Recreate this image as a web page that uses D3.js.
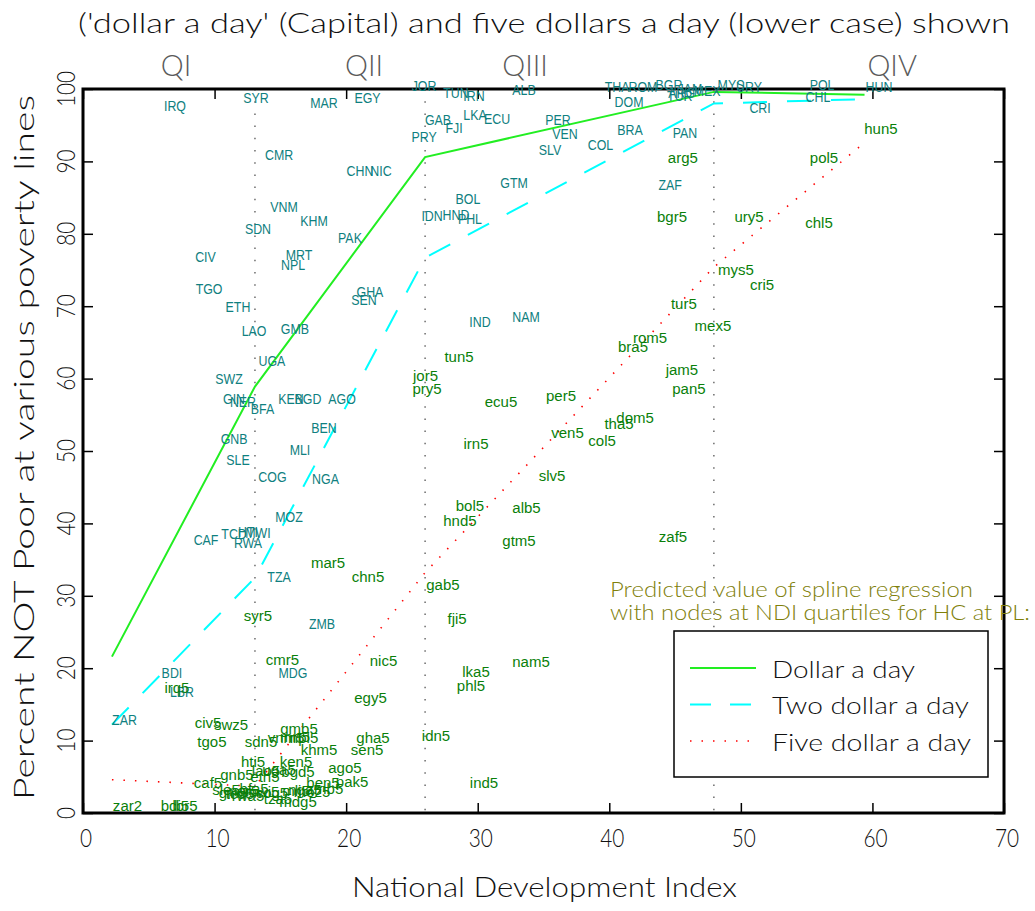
<!DOCTYPE html>
<html><head><meta charset="utf-8">
<script src="https://cdn.jsdelivr.net/npm/d3@7"></script>
<style>body{margin:0;background:#fff}</style>
</head><body>
<svg id="chart" width="1035" height="911"></svg>
<script>
// ---- data ----
const xTicks = [0,10,20,30,40,50,60,70];
const yTicks = [0,10,20,30,40,50,60,70,80,90,100];
const quartiles = [13.07, 26.0, 47.95];
const quadrantNames = ["QI","QII","QIII","QIV"];
const quadrantX = [7.07, 21.36, 33.6, 61.5];
const splineX = [2.2, 13.07, 26.0, 47.95, 59.4];
const dollarOne = [21.6, 58.9, 90.6, 99.6, 99.2];
const dollarTwo = [12.2, 32.5, 76.7, 98.0, 98.6];
const dollarFive = [4.6, 3.7, 33.2, 75.4, 92.6];
const legendNames = ["Dollar a day","Two dollar a day","Five dollar a day"];
const titleText = "('dollar a day' (Capital) and five dollars a day (lower case) shown";
const noteLines = ["Predicted value of spline regression","with nodes at NDI quartiles for HC at PL:"];

// uppercase: share not poor at dollar a day  [code, NDI, percent]
const upperLabels = [
["IRQ",6.99,97.79],["SYR",13.15,98.83],["MAR",18.32,98.14],["EGY",21.62,98.83],
["JOR",25.92,100.55],["TUN",28.35,99.59],["IRN",29.72,99.17],["ALB",33.52,100.0],
["GAB",26.98,95.86],["FJI",28.20,94.68],["LKA",29.79,96.55],["ECU",31.47,96.0],
["PRY",25.92,93.51],["PER",36.10,95.86],["VEN",36.63,93.85],["SLV",35.49,91.71],
["CMR",14.90,91.02],["CHN",21.05,88.81],["NIC",22.65,88.81],["GTM",32.76,87.09],
["BOL",29.26,84.94],["IDN",26.53,82.60],["HND",28.35,82.73],["PHL",29.41,82.11],
["VNM",15.28,83.84],["KHM",17.56,81.91],["SDN",13.30,80.80],["PAK",20.29,79.56],
["THA",40.59,100.35],["ROM",42.56,100.35],["BGR",44.54,100.69],["DOM",41.50,98.34],
["ARG",45.51,99.59],["TUR",45.36,99.17],["JAM",46.12,100.14],["MEX",47.43,99.79],
["MYS",49.25,100.69],["URY",50.62,100.41],["POL",56.17,100.69],["CHL",55.86,99.03],
["HUN",60.50,100.41],["CRI",51.46,97.45],["BRA",41.57,94.48],["PAN",45.75,94.06],
["COL",39.33,92.40],["ZAF",44.62,86.88],["CIV",9.31,76.93],["MRT",16.42,77.21],
["NPL",15.96,75.83],["TGO",9.58,72.45],["GHA",21.81,72.10],["SEN",21.36,70.99],
["ETH",11.78,69.96],["LAO",13.00,66.71],["GMB",16.11,66.92],["UGA",14.36,62.57],
["SWZ",11.10,60.01],["GIN",11.48,57.25],["NER",12.16,56.91],["BFA",13.64,55.94],
["KEN",15.81,57.32],["BGD",17.10,57.32],["AGO",19.69,57.25],["BEN",18.32,53.31],
["GNB",11.48,51.73],["MLI",16.49,50.28],["SLE",11.78,48.90],["COG",14.40,46.55],
["NGA",18.43,46.20],["MOZ",15.66,41.02],["CAF",9.35,37.85],["TCD",11.48,38.67],
["HTI",12.54,38.95],["MWI",13.30,38.81],["RWA",12.54,37.36],["TZA",14.90,32.73],
["ZMB",18.17,26.17],["MDG",15.96,19.41],["BDI",6.76,19.41],["LBR",7.52,16.85],
["ZAR",3.15,12.98],["IND",30.17,67.96],["NAM",33.67,68.65]
];
// lowercase: share not poor at five dollars a day  [code, NDI, percent]
const lowerLabels = [
["mar5",18.62,34.67],["chn5",21.66,32.73],["syr5",13.30,27.35],["gab5",27.36,31.56],
["fji5",28.43,26.86],["nam5",34.05,20.99],["lka5",29.87,19.61],["phl5",29.49,17.68],
["idn5",26.83,10.77],["ind5",30.48,4.28],["nic5",22.84,21.06],["cmr5",15.16,21.27],
["irq5",7.14,17.40],["egy5",21.85,15.95],["civ5",9.50,12.57],["swz5",11.25,12.29],
["tgo5",9.80,9.94],["sdn5",13.53,9.94],["gmb5",16.42,11.74],["vnm5",15.43,10.50],
["npl5",16.80,10.50],["mrt5",16.11,10.64],["gha5",22.04,10.50],["sen5",21.59,8.84],
["khm5",17.94,8.84],["hti5",12.92,7.18],["ken5",16.19,7.18],["lao5",13.91,5.94],
["uga5",14.90,6.08],["bgd5",16.34,5.80],["ago5",19.91,6.35],["caf5",9.50,4.19],
["gnb5",11.70,5.39],["eth5",13.83,5.11],["ben5",18.24,4.28],["pak5",20.45,4.42],
["sle5",10.87,3.31],["gin5",11.40,2.90],["ner5",12.24,3.18],["bfa5",13.00,3.45],
["mwi5",13.60,3.04],["rwa5",12.54,2.49],["cog5",14.36,2.90],["tcd5",11.93,2.76],
["mli5",16.19,3.18],["nga5",16.87,3.31],["moz5",17.41,3.04],["zmb5",18.39,3.45],
["tza5",14.82,2.07],["mdg5",16.34,1.66],["zar2",3.38,1.10],["bdi5",6.99,1.10],
["lbr5",7.75,1.10],["tun5",28.58,63.12],["jor5",26.03,60.50],["pry5",26.15,58.70],
["ecu5",31.77,56.91],["per5",36.33,57.73],["ven5",36.82,52.62],["col5",39.45,51.52],
["tha5",40.74,53.87],["dom5",41.96,54.63],["irn5",29.87,51.10],["slv5",35.65,46.69],
["bol5",29.41,42.54],["alb5",33.71,42.27],["hnd5",28.65,40.47],["gtm5",33.14,37.71],
["zaf5",44.84,38.19],["rom5",43.10,65.75],["bra5",41.80,64.50],["jam5",45.52,61.33],
["pan5",46.05,58.70],["tur5",45.67,70.44],["mex5",47.88,67.33],["mys5",49.63,75.14],
["cri5",51.61,73.07],["hun5",60.65,94.61],["arg5",45.59,90.61],["pol5",56.32,90.61],
["bgr5",44.77,82.39],["ury5",50.62,82.39],["chl5",55.94,81.56]
];

// ---- drawing ----
const svg = d3.select("#chart");
const light = "Lato, 'Open Sans', 'DejaVu Sans', sans-serif";
const x = d3.scaleLinear().domain([0,70]).range([83,1004]);
const y = d3.scaleLinear().domain([0,100]).range([813,89]);

// title
svg.append("text").attr("x",78).attr("y",33).attr("textLength",932).attr("lengthAdjust","spacingAndGlyphs")
  .style("font-family",light).style("font-weight",300).style("font-size","28px").attr("fill","#111").text(titleText);

// quartile dotted lines
svg.append("g").selectAll("line").data(quartiles).join("line")
  .attr("x1",d=>x(d)).attr("x2",d=>x(d)).attr("y1",y(100)).attr("y2",y(0))
  .attr("stroke","#555").attr("stroke-width",1.3).attr("stroke-dasharray","1.5 10.7");

// quadrant names
svg.append("g").selectAll("text").data(quadrantNames).join("text")
  .attr("x",(d,i)=>x(quadrantX[i])).attr("y",76).attr("text-anchor","middle")
  .style("font-family",light).style("font-weight",300).style("font-size","29px").attr("fill","#5a5a5a")
  .text(d=>d);

// axes ticks (inside) on all four sides
const tickLen = 10;
const axB = svg.append("g").attr("transform",`translate(0,${y(0)})`)
  .call(d3.axisBottom(x).tickValues(xTicks).tickSize(-tickLen).tickFormat(""));
const axT = svg.append("g").attr("transform",`translate(0,${y(100)})`)
  .call(d3.axisTop(x).tickValues(xTicks).tickSize(-tickLen).tickFormat(""));
const axL = svg.append("g").attr("transform",`translate(${x(0)},0)`)
  .call(d3.axisLeft(y).tickValues(yTicks).tickSize(-tickLen).tickFormat(""));
const axR = svg.append("g").attr("transform",`translate(${x(70)},0)`)
  .call(d3.axisRight(y).tickValues(yTicks).tickSize(-tickLen).tickFormat(""));
[axB,axT,axL,axR].forEach(a=>{a.select(".domain").remove(); a.selectAll("line").attr("stroke","#000").attr("stroke-width",1.5);});

// tick labels
svg.append("g").selectAll("text").data(xTicks).join("text")
  .attr("transform",d=>`translate(${x(d)+3},847) scale(0.8,1)`).attr("text-anchor","middle")
  .style("font-family",light).style("font-weight",300).style("font-size","26px").attr("fill","#111").text(d=>d);
svg.append("g").selectAll("text").data(yTicks).join("text")
  .attr("transform",d=>`translate(75,${y(d)}) rotate(-90) scale(0.8,1)`).attr("text-anchor","middle")
  .style("font-family",light).style("font-weight",300).style("font-size","26px").attr("fill","#111").text(d=>d);

// axis titles
svg.append("text").attr("x",352).attr("y",897).attr("textLength",385).attr("lengthAdjust","spacingAndGlyphs")
  .style("font-family",light).style("font-weight",300).style("font-size","28px").attr("fill","#111")
  .text("National Development Index");
svg.append("text").attr("transform","translate(34,800) rotate(-90)").attr("textLength",705).attr("lengthAdjust","spacingAndGlyphs")
  .style("font-family",light).style("font-weight",300).style("font-size","28px").attr("fill","#111")
  .text("Percent NOT Poor at various poverty lines");

// spline lines
const line = d3.line().x((d,i)=>x(splineX[i])).y(d=>y(d));
svg.append("path").attr("d",line(dollarFive)).attr("fill","none").attr("stroke","#ff0000").attr("stroke-width",1.6).attr("stroke-dasharray","1.5 10");
svg.append("path").attr("d",line(dollarTwo)).attr("fill","none").attr("stroke","#00ffff").attr("stroke-width",2).attr("stroke-dasharray","24 20");
svg.append("path").attr("d",line(dollarOne)).attr("fill","none").attr("stroke","#22ee22").attr("stroke-width",2);

// frame
svg.append("rect").attr("x",x(0)).attr("y",y(100)).attr("width",x(70)-x(0)).attr("height",y(0)-y(100))
  .attr("fill","none").attr("stroke","#000").attr("stroke-width",3);

// country labels
function drawLabels(data, color, sx){
  svg.append("g").selectAll("text").data(data).join("text")
    .attr("transform",d=>`translate(${x(d[1])},${y(d[2])}) scale(${sx},1)`)
    .attr("text-anchor","middle").attr("dy","0.36em")
    .style("font-family","'Liberation Sans', Arial, sans-serif").style("font-size","15.5px")
    .attr("fill",color).text(d=>d[0]);
}
drawLabels(upperLabels,"#0f8080",0.8);
drawLabels(lowerLabels,"#0a7f0a",0.97);

// note
svg.append("g").selectAll("text").data(noteLines).join("text")
  .attr("x",610).attr("y",(d,i)=>597+i*22.5)
  .attr("textLength",(d,i)=>[363,420][i]).attr("lengthAdjust","spacingAndGlyphs")
  .style("font-family",light).style("font-weight",300).style("font-size","21px").attr("fill","#80800a").text(d=>d);

// legend
const lg = svg.append("g");
lg.append("rect").attr("x",674).attr("y",631).attr("width",314).attr("height",146)
  .attr("fill","#fff").attr("stroke","#000").attr("stroke-width",1.5);
const legStyles = [
  {c:"#22ee22",dash:null,w:2},
  {c:"#00ffff",dash:"21 19",w:2},
  {c:"#ff0000",dash:"1.5 10",w:1.6}
];
const legLens=[143,197,199];
legendNames.forEach((name,i)=>{
  const yy = 668 + i*36.5;
  const l = lg.append("line").attr("x1",690).attr("x2",756).attr("y1",yy).attr("y2",yy)
    .attr("stroke",legStyles[i].c).attr("stroke-width",legStyles[i].w);
  if(legStyles[i].dash) l.attr("stroke-dasharray",legStyles[i].dash);
  lg.append("text").attr("x",772).attr("y",yy+9.5).attr("textLength",legLens[i]).attr("lengthAdjust","spacingAndGlyphs")
    .style("font-family",light).style("font-weight",300).style("font-size","24px").attr("fill","#111").text(name);
});
</script>
</body></html>
